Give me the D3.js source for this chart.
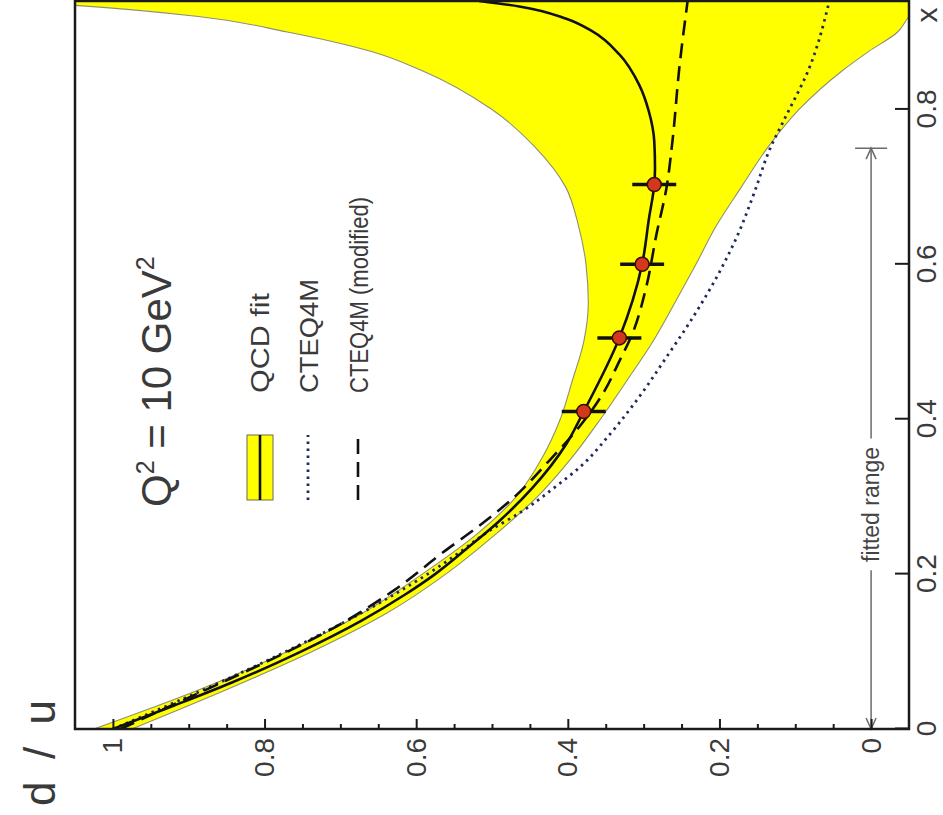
<!DOCTYPE html>
<html>
<head>
<meta charset="utf-8">
<script src="https://cdn.jsdelivr.net/npm/d3@7"></script>
<style>
  body { margin: 0; background: #fff; }
  text { font-family: "Liberation Sans", Arial, Helvetica, sans-serif; }
</style>
</head>
<body>
<svg id="chart" width="943" height="815"></svg>
<script>
// QCD fit central curve
const fitX = [0, 0.03, 0.06, 0.1, 0.14, 0.174, 0.2, 0.234, 0.268, 0.311, 0.368, 0.41, 0.505, 0.6, 0.659, 0.703, 0.724, 0.759, 0.797, 0.832, 0.871, 0.901, 0.917, 0.933, 0.94];
const fitY = [1.0, 0.92, 0.843, 0.752, 0.672, 0.614, 0.575, 0.532, 0.491, 0.447, 0.402, 0.379, 0.332, 0.302, 0.293, 0.286, 0.285, 0.286, 0.293, 0.306, 0.332, 0.368, 0.402, 0.464, 0.517];

// QCD fit error band
const bandX  = [0, 0.05, 0.1, 0.15, 0.2, 0.25, 0.3, 0.35, 0.4, 0.45, 0.5, 0.55, 0.6, 0.65, 0.7, 0.75, 0.8, 0.85, 0.875, 0.9, 0.92, 0.935, 0.94];
const bandHi = [1.025, 0.888, 0.77, 0.67, 0.592, 0.522, 0.468, 0.434, 0.41, 0.394, 0.379, 0.373, 0.376, 0.386, 0.403, 0.442, 0.5, 0.592, 0.66, 0.77, 0.887, 1.06, 1.15];
const bandLo = [0.975, 0.852, 0.737, 0.638, 0.561, 0.497, 0.44, 0.395, 0.357, 0.322, 0.288, 0.259, 0.231, 0.204, 0.171, 0.137, 0.095, 0.038, 0.003, -0.035, -0.05, -0.065, -0.07];

// CTEQ4M
const cteqX = [0, 0.05, 0.1, 0.15, 0.2, 0.23, 0.255, 0.28, 0.31, 0.34, 0.38, 0.43, 0.48, 0.53, 0.59, 0.64, 0.69, 0.75, 0.79, 0.85, 0.94];
const cteqY = [1.0, 0.882, 0.772, 0.672, 0.585, 0.54, 0.505, 0.462, 0.42, 0.382, 0.345, 0.305, 0.27, 0.236, 0.2, 0.175, 0.155, 0.133, 0.113, 0.083, 0.055];

// CTEQ4M (modified)
const cteqModX = [0, 0.045, 0.088, 0.131, 0.18, 0.23, 0.26, 0.3, 0.346, 0.39, 0.436, 0.475, 0.51, 0.569, 0.639, 0.698, 0.759, 0.853, 0.94];
const cteqModY = [0.99, 0.89, 0.795, 0.708, 0.628, 0.562, 0.52, 0.47, 0.425, 0.385, 0.352, 0.332, 0.315, 0.297, 0.283, 0.27, 0.262, 0.253, 0.242];

// measured points with errors
const dataX   = [0.41, 0.505, 0.6, 0.703];
const dataY   = [0.379, 0.332, 0.302, 0.286];
const dataErr = [0.029, 0.029, 0.029, 0.029];

// axis ticks
const xTicks = [0, 0.2, 0.4, 0.6, 0.8];
const xTickLabels = ["0", "0.2", "0.4", "0.6", "0.8"];
const yTicks = [0, 0.2, 0.4, 0.6, 0.8, 1.0];
const yTickLabels = ["0", "0.2", "0.4", "0.6", "0.8", "1"];
const yMinorTicks = d3.range(0, 21).map(i => i * 0.05).filter(v => Math.round(v * 100) % 20 !== 0);

// fitted range
const fittedRange = [0, 0.75];

const svg = d3.select("#chart");
const W = 728, H = 834;
const x = d3.scaleLinear().domain([0, 0.94]).range([0, W]);
const y = d3.scaleLinear().domain([-0.05, 1.05]).range([H, 0]);

// the whole plot is drawn turned a quarter turn anticlockwise
const plot = svg.append("g").attr("transform", "translate(75,729) rotate(-90)");

plot.append("defs").append("clipPath").attr("id", "frameClip")
  .append("rect").attr("x", 0).attr("y", 0).attr("width", W).attr("height", H);

const inner = plot.append("g").attr("clip-path", "url(#frameClip)");

// error band
const band = bandX.map((d, i) => ({ x: d, lo: bandLo[i], hi: bandHi[i] }));
inner.append("path")
  .datum(band)
  .attr("d", d3.area().x(d => x(d.x)).y0(d => y(d.lo)).y1(d => y(d.hi)).curve(d3.curveMonotoneX))
  .attr("fill", "#ffff00");
inner.append("path")
  .datum(band)
  .attr("d", d3.line().x(d => x(d.x)).y(d => y(d.hi)).curve(d3.curveMonotoneX))
  .attr("fill", "none").attr("stroke", "#8f8f70").attr("stroke-width", 1.1);
inner.append("path")
  .datum(band)
  .attr("d", d3.line().x(d => x(d.x)).y(d => y(d.lo)).curve(d3.curveMonotoneX))
  .attr("fill", "none").attr("stroke", "#8f8f70").attr("stroke-width", 1.1);

const lineGen = d3.line().x(d => x(d[0])).y(d => y(d[1])).curve(d3.curveMonotoneX);

// CTEQ4M dotted
inner.append("path")
  .datum(d3.zip(cteqX, cteqY))
  .attr("d", lineGen)
  .attr("fill", "none").attr("stroke", "#1f2a5c").attr("stroke-width", 2.8)
  .attr("stroke-dasharray", "2.5,4.5");

// CTEQ4M (modified) dashed
inner.append("path")
  .datum(d3.zip(cteqModX, cteqModY))
  .attr("d", lineGen)
  .attr("fill", "none").attr("stroke", "#111").attr("stroke-width", 2.6)
  .attr("stroke-dasharray", "15,8");

// QCD fit solid
inner.append("path")
  .datum(d3.zip(fitX, fitY))
  .attr("d", lineGen)
  .attr("fill", "none").attr("stroke", "#111").attr("stroke-width", 2.6);

// data points
const pts = inner.append("g");
dataX.forEach((dx, i) => {
  pts.append("line")
    .attr("x1", x(dx)).attr("x2", x(dx))
    .attr("y1", y(dataY[i] - dataErr[i])).attr("y2", y(dataY[i] + dataErr[i]))
    .attr("stroke", "#111").attr("stroke-width", 3.5);
});
pts.selectAll("circle").data(d3.zip(dataX, dataY)).join("circle")
  .attr("cx", d => x(d[0])).attr("cy", d => y(d[1])).attr("r", 7)
  .attr("fill", "#d2381c").attr("stroke", "#3b0c06").attr("stroke-width", 1.5);

// fitted range marker
const fr = plot.append("g").attr("stroke", "#6a6a6a").attr("stroke-width", 1.5).attr("fill", "none");
const v0 = y(0);
const gapA = x(0.205), gapB = x(0.375);
fr.append("line").attr("x1", x(fittedRange[0])).attr("x2", gapA).attr("y1", v0).attr("y2", v0);
fr.append("line").attr("x1", gapB).attr("x2", x(fittedRange[1])).attr("y1", v0).attr("y2", v0);
fr.append("path").attr("d", `M${x(fittedRange[0]) + 11},${v0 - 5}L${x(fittedRange[0])},${v0}L${x(fittedRange[0]) + 11},${v0 + 5}`);
fr.append("path").attr("d", `M${x(fittedRange[1]) - 11},${v0 - 5}L${x(fittedRange[1])},${v0}L${x(fittedRange[1]) - 11},${v0 + 5}`);
fr.append("line").attr("x1", x(fittedRange[1])).attr("x2", x(fittedRange[1])).attr("y1", v0 - 16).attr("y2", v0 + 16);
plot.append("text")
  .attr("x", (gapA + gapB) / 2).attr("y", v0).attr("dy", "0.35em")
  .attr("text-anchor", "middle").attr("font-size", 23).attr("fill", "#444")
  .text("fitted range");

// axes
const xAxis = plot.append("g").attr("transform", `translate(0,${H})`)
  .call(d3.axisBottom(x).tickValues(xTicks).tickFormat((d, i) => xTickLabels[i]).tickSize(-14).tickPadding(7));
const yAxis = plot.append("g")
  .call(d3.axisLeft(y).tickValues(yTicks).tickFormat((d, i) => yTickLabels[i]).tickSize(-10).tickPadding(9));
const yMinor = plot.append("g")
  .call(d3.axisLeft(y).tickValues(yMinorTicks).tickFormat("").tickSize(-5));
[xAxis, yAxis, yMinor].forEach(a => {
  a.select(".domain").remove();
  a.selectAll(".tick line").attr("stroke", "#1a1a1a").attr("stroke-width", 2);
  a.selectAll(".tick text").attr("font-size", 28).attr("fill", "#3a3a3a")
    .attr("font-family", "'Liberation Sans', Arial, sans-serif");
});

// frame
plot.append("rect").attr("x", 0).attr("y", 0).attr("width", W).attr("height", H)
  .attr("fill", "none").attr("stroke", "#1a1a1a").attr("stroke-width", 2.5);

// axis titles
plot.append("text").attr("x", W - 14).attr("y", H + 7).attr("dy", "0.71em")
  .attr("text-anchor", "middle").attr("font-size", 30).attr("fill", "#3a3a3a").text("x");
plot.append("text").attr("x", -77).attr("y", -20)
  .attr("font-size", 44).attr("fill", "#3a3a3a")
  .attr("textLength", 106).attr("lengthAdjust", "spacing")
  .text("d / u");

// Q^2 label
const q = plot.append("text").attr("x", 222).attr("y", 96).attr("font-size", 42).attr("fill", "#3a3a3a");
q.append("tspan").text("Q");
q.append("tspan").attr("font-size", 25).attr("dy", -17).text("2");
q.append("tspan").attr("dy", 17).text(" = 10 GeV");
q.append("tspan").attr("font-size", 25).attr("dy", -17).text("2");

// legend
const leg = plot.append("g");
leg.append("rect").attr("x", 229).attr("y", 172).attr("width", 65).attr("height", 26)
  .attr("fill", "#ffff00").attr("stroke", "#6a6a50").attr("stroke-width", 1);
leg.append("line").attr("x1", 229).attr("x2", 294).attr("y1", 185).attr("y2", 185)
  .attr("stroke", "#111").attr("stroke-width", 2.6);
leg.append("line").attr("x1", 229).attr("x2", 294).attr("y1", 233).attr("y2", 233)
  .attr("stroke", "#1f2a5c").attr("stroke-width", 2.8).attr("stroke-dasharray", "2.5,4.5");
leg.append("line").attr("x1", 229).attr("x2", 294).attr("y1", 283).attr("y2", 283)
  .attr("stroke", "#111").attr("stroke-width", 2.6).attr("stroke-dasharray", "15,8");
const legendLabels = ["QCD fit", "CTEQ4M", "CTEQ4M (modified)"];
const legendRows = [185, 234, 284];
const legendLengths = [100, 114, 196];
legendLabels.forEach((t, i) => {
  leg.append("text").attr("x", 336).attr("y", legendRows[i]).attr("dy", "0.36em")
    .attr("font-size", 26).attr("fill", "#3a3a3a")
    .attr("textLength", legendLengths[i]).attr("lengthAdjust", "spacingAndGlyphs")
    .text(t);
});
</script>
</body>
</html>
